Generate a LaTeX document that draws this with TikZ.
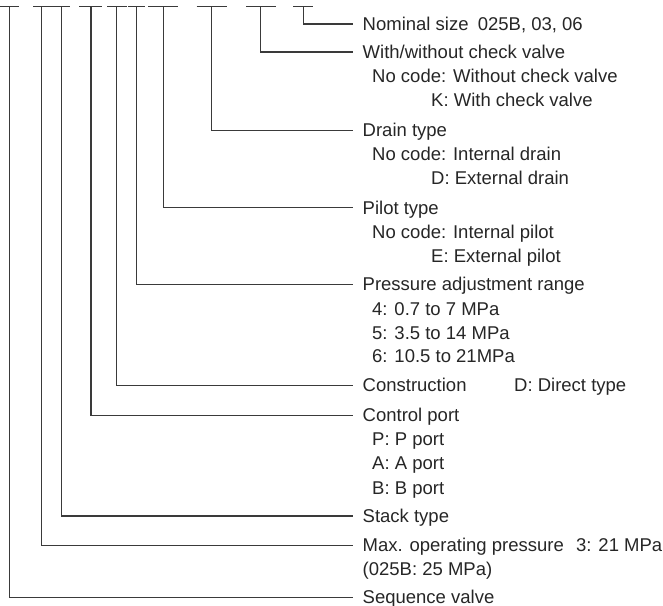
\documentclass[tikz,border=0pt]{standalone}
\usepackage{fontspec}
\setmainfont{Liberation Sans}
\definecolor{ink}{HTML}{262626}
\definecolor{rule}{HTML}{3A3A3A}
\begin{document}
\begin{tikzpicture}[x=1pt,y=-1pt,
  lbl/.style={anchor=base west,inner xsep=9.5pt,inner ysep=0pt,text height=12.6pt,text depth=0pt,text=ink,font=\fontsize{18.5}{22}\selectfont},
  sub/.style={anchor=base west,inner sep=0pt,text=ink,font=\fontsize{18.5}{22}\selectfont},
  conn/.style={draw=rule,line width=1.1pt},
  dashmark/.style={draw=rule,line width=1.1pt}]
\useasboundingbox (0,0) rectangle (663,605);
% code dashes
\foreach \a/\b in {0/19,33/52.7,53.3/70,79/101.7,107.3/126.7,128.3/145,148.3/178.3,196.7/226.7,246/275.5,293.3/313.3}
  \draw[dashmark] (\a,6.7) -- (\b,6.7);
% tops of connectors
\coordinate (t1) at (303.3,6.7);
\coordinate (t2) at (260.3,6.7);
\coordinate (t3) at (211.7,6.7);
\coordinate (t4) at (163.3,6.7);
\coordinate (t5) at (136.7,6.7);
\coordinate (t6) at (116.7,6.7);
\coordinate (t7) at (91,6.7);
\coordinate (t8) at (61.7,6.7);
\coordinate (t9) at (41.7,6.7);
\coordinate (t10) at (9.7,6.7);
% labels
\node[lbl] (l1) at (353,30.3) {Nominal size\hspace{0.5em}025B, 03, 06};
\node[lbl] (l2) at (353,58.3) {With/without check valve};
\node[sub] (l2a) at (372,82.3) {No code: Without check valve};
\node[sub] (l2b) at (431,106.7) {K: With check valve};
\node[lbl] (l3) at (353,136.7) {Drain type};
\node[sub] (l3a) at (372,160.7) {No code: Internal drain};
\node[sub] (l3b) at (431,184.3) {D: External drain};
\node[lbl] (l4) at (353,214) {Pilot type};
\node[sub] (l4a) at (372,238.3) {No code: Internal pilot};
\node[sub] (l4b) at (431,262.3) {E: External pilot};
\node[lbl] (l5) at (353,290.7) {Pressure adjustment range};
\node[sub] (l5a) at (372,315) {4: 0.7 to 7 MPa};
\node[sub] (l5b) at (372,339) {5: 3.5 to 14 MPa};
\node[sub] (l5c) at (372,362.7) {6: 10.5 to 21MPa};
\node[lbl] (l6) at (353,391.7) {Construction};
\node[sub] (l6a) at (514,391.7) {D: Direct type};
\node[lbl] (l7) at (353,421.7) {Control port};
\node[sub] (l7a) at (372,445.7) {P: P port};
\node[sub] (l7b) at (372,469.3) {A: A port};
\node[sub] (l7c) at (372,494) {B: B port};
\node[lbl] (l8) at (353,522.3) {Stack type};
\node[lbl] (l9) at (353,551.7) {Max. operating pressure};
\node[sub] (l9a) at (576,551.7) {3: 21 MPa};
\node[sub] (l9b) at (362.5,575) {(025B: 25 MPa)};
\node[lbl] (l10) at (353,603.8) {Sequence valve};
% connectors
\foreach \i in {1,...,10}
  \draw[conn] (t\i) |- (l\i.west);
\end{tikzpicture}
\end{document}
